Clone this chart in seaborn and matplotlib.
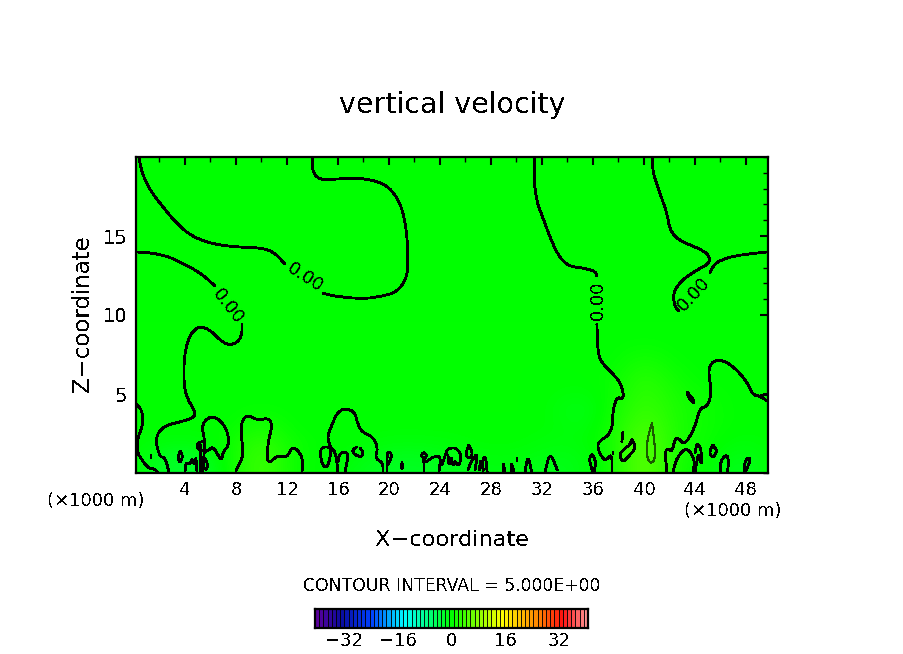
import numpy as np
import pandas as pd
import matplotlib
matplotlib.use("Agg")
import matplotlib.pyplot as plt
from matplotlib.colors import LinearSegmentedColormap
from matplotlib.ticker import MultipleLocator
import seaborn as sns

sns.set_theme(style="white")
plt.rcParams["font.family"] = ["DejaVu Sans"]
plt.rcParams["lines.antialiased"] = False
plt.rcParams["text.antialiased"] = False

TITLE = "vertical velocity"
X_LABEL = "X\u2212coordinate"
Z_LABEL = "Z\u2212coordinate"
UNIT_LABEL = "(\u00d71000 m)"
INTERVAL_LABEL = "CONTOUR INTERVAL = 5.000E+00"
CONTOUR_LABEL = "0.00"

x_major = [4, 8, 12, 16, 20, 24, 28, 32, 36, 40, 44, 48]
z_major = [5, 10, 15]
cbar_ticks = [-32, -16, 0, 16, 32]

# background field (m/s) on a coarse grid: one row per km of height, one column per 2.5 km
field_x = [0, 2.5, 5, 7.5, 10, 12.5, 15, 17.5, 20, 22.5, 25, 27.5, 30, 32.5, 35, 37.5, 40, 42.5, 45, 47.5, 50]
field_z = [0, 1, 2, 3, 4, 5, 6, 7, 8, 9]
field_w = [
    [0, -2, -3, .5, 4, .5, 0, -1, -2, -2, -1.5, -1, -1, -1.5, -1, .8, 6, 1, 0, -2, 0],
    [0, -2, -2, .5, 4, .5, 0, -.5, -1.5, -1.5, -1, -.5, -.5, -1, -1, .8, 6, 1.2, .3, -1.5, 0],
    [0, -.5, -.5, .5, 3, .5, 0, 0, -.5, -.5, -.3, 0, 0, -.5, -.5, 1, 5.5, 1.5, .5, -.5, 0],
    [0, 0, 0, 0, 1.5, 0, 0, 0, 0, 0, 0, 0, 0, 0, -1, 1, 4.5, 1.5, .6, 0, 0],
    [0, 0, 0, 0, .3, 0, 0, 0, 0, 0, 0, 0, 0, 0, -1.5, .8, 3.5, 1.5, .6, 0, 0],
    [0, 0, 0, 0, 0, 0, 0, 0, 0, 0, 0, 0, 0, 0, -.5, .4, 3, 1.2, .4, 0, 0],
    [0, 0, 0, 0, 0, 0, 0, 0, 0, 0, 0, 0, 0, 0, 0, .2, 2.5, .7, 0, 0, 0],
    [0, 0, 0, 0, 0, 0, 0, 0, 0, 0, 0, 0, 0, 0, 0, 0, 1.5, .2, 0, 0, 0],
    [0, 0, 0, 0, 0, 0, 0, 0, 0, 0, 0, 0, 0, 0, 0, 0, .4, 0, 0, 0, 0],
    [0, 0, 0, 0, 0, 0, 0, 0, 0, 0, 0, 0, 0, 0, 0, 0, 0, 0, 0, 0, 0],
]

# zero contour, traced as (x km, z km)
c_top_left = [(.39,20),(.63,18.99),(1.25,17.91),(2.27,16.84),(3.45,15.7),(4.63,14.94),(6.2,14.49),(8.08,14.3),(10.12,14.24),(11.06,13.92),(11.84,13.23)]
c_top_mid = [(14.82,11.39),(15.61,11.2),(17.96,11.01),(19.53,11.2),(20.63,11.46),(21.41,12.34),(21.49,13.48),(21.41,15.19),(21.02,16.84),(20.24,17.91),(19.29,18.42),(17.73,18.67),(15.92,18.61),(14.82,18.54),(14.2,18.8),(13.96,19.37),(14.04,20)]
c_left_14 = [(.16,13.99),(1.49,13.92),(2.82,13.67),(4.39,13.04),(5.41,12.53),(6.35,11.84)]
c_left_low = [(8.47,9.43),(8.47,8.73),(8.08,8.23),(7.37,8.1),(6.75,8.42),(5.96,9.05),(5.18,9.3),(4.55,8.92),(4.16,8.23),(3.92,7.15),(3.92,5.44),(4.24,4.62),(4.86,3.8),(4.63,3.48),(3.61,3.23),(2.59,3.04),(1.88,2.59),(1.73,1.9),(2.04,1.01),(2.43,1.01),(2.75,.06)]
c_left_edge = [(.16,4.37),(.63,3.99),(.71,3.04),(.31,2.28),(.24,1.33),(.63,.82),(1.1,.32),(1.65,.25),(1.88,0)]
c_loop_6 = [(5.41,.06),(5.57,2.09),(5.33,2.85),(5.57,3.35),(6.2,3.61),(6.9,3.23),(7.37,2.53),(7.45,1.77),(6.98,1.33),(6.9,.82),(6.67,1.01),(6.2,1.71),(5.73,1.33),(5.02,1.46),(4.94,1.9),(5.57,2.03)]
c_stem_5 = [(5.2,1.8),(5.25,.06)]
c_loop_10 = [(8,.13),(8.63,1.14),(8.39,2.41),(8.47,3.35),(8.94,3.67),(9.65,3.35),(10.67,3.48),(10.82,2.85),(10.51,1.96),(10.43,.51),(11.29,1.14),(12,.95),(12.47,1.77),(13.25,1.01),(13.18,.06)]
c_small_3 = [(3.61,1.39),(3.84,1.08),(3.61,.63),(3.45,.95),(3.61,1.39)]
c_spiky_4 = [(4,.06),(4.08,.7),(4.39,.5),(4.55,.95),(4.71,.5),(4.86,1.08),(4.94,.13)]
c_spike_5 = [(5.57,.95),(5.8,.5),(5.65,.2)]
c_dash_1 = [(1.33,1.14),(1.33,.95)]
c_big_17 = [(19.53,.06),(19.53,.63),(18.9,.95),(19.14,1.58),(18.75,2.28),(17.88,2.59),(17.49,3.23),(17.33,3.86),(16.55,4.11),(15.92,3.8),(15.53,3.04),(15.14,2.28),(15.45,1.58),(15.84,1.27),(16,.06)]
c_loop_15 = [(14.59,1.27),(14.75,1.65),(15.37,1.65),(15.45,1.33),(15.22,.38),(14.82,.38),(14.59,1.27)]
c_arch_16 = [(16,.7),(16.16,1.27),(16.71,1.33),(16.78,.95),(16.55,.06)]
c_hook_17 = [(17.49,1.65),(17.1,1.46),(17.33,1.14),(17.88,1.01),(17.96,1.33),(17.73,1.58)]
c_drop_20 = [(19.84,.06),(19.84,1.14),(20,1.39),(20.24,1.14),(20,.63),(19.84,.5)]
c_blob_21 = [(21.02,.65),(21.1,.3),(20.95,.3),(21.02,.65)]
c_head_22 = [(22.75,.06),(22.75,.89),(22.51,1.14),(22.75,1.33),(22.98,1.08),(22.75,.89)]
c_arch_23 = [(22.9,.7),(23.6,1.08),(24.08,1.01),(23.92,.06)]
c_zig_25 = [(24.16,.51),(24.55,1.46),(24.78,1.58),(25.33,1.58),(25.73,1.01),(25.41,.38),(25.18,.82),(25.02,.38),(24.86,1.14),(24.71,.38),(24.63,1.14)]
c_drop_26 = [(26.27,1.77),(26.6,1.2),(26.27,.9),(26,1.2),(26.27,1.77)]
c_spike_26 = [(26.2,.2),(26.5,.82),(26.98,1.27),(26.75,.2)]
c_spike_27 = [(27.1,.2),(27.2,.95),(27.4,.2)]
c_loop_27 = [(27.37,.06),(27.37,.95),(27.6,1.01),(27.7,.06)]
c_spike_29 = [(28.94,.1),(28.94,.7),(29.1,.1)]
c_spike_30 = [(29.57,.1),(29.57,.7),(29.8,.1)]
c_dash_30 = [(30.04,.95),(30.04,.75)]
c_loop_31 = [(30.67,.06),(30.9,1.14),(31.2,.06)]
c_peak_33 = [(32.24,.06),(32.63,1.33),(33.2,.2)]
c_loop_36 = [(36,.06),(35.69,.82),(35.92,1.27),(36.24,.7),(36.08,.06)]
c_upper_33 = [(31.45,20),(31.37,18.54),(31.6,17.15),(32.08,16.14),(32.63,14.94),(33.25,13.8),(34.04,13.1),(35.22,12.97),(36.16,12.78),(36.31,12.47)]
c_lower_37 = [(36.31,9.43),(36.39,7.59),(36.71,6.96),(37.49,6.33),(38.12,5.76),(38.43,4.94),(38.27,4.68),(37.88,4.81),(37.57,3.99),(37.49,2.53),(36.39,1.96),(36.39,1.46),(36.94,.7),(37.49,1.27),(37.49,.06)]
c_dash_38 = [(38.27,1.96),(38.35,2.59)]
c_dot_37 = [(37.57,1.33),(37.57,1.2)]
c_loop_39 = [(39.06,2.15),(39.37,1.58),(38.75,1.01),(38.35,.7),(38.04,1.14),(38.51,1.58),(38.9,1.77),(39.06,2.15)]
c_right_45 = [(41.8,.06),(41.65,1.33),(41.88,1.58),(42.2,1.33),(42.43,2.15),(42.67,2.22),(43.22,1.77),(44,2.91),(44.39,4.11),(44.94,4.18),(45.33,5.06),(45.02,6.52),(45.41,7.09),(46.2,7.15),(47.14,6.65),(48.08,5.76),(48.55,4.94),(49.1,4.87),(49.65,4.56)]
c_right_tail = [(49.1,4.87),(49.65,5)]
c_loop_43 = [(42.27,.06),(42.59,1),(43.37,1.65),(44,.82),(43.84,.06)]
c_spike_44 = [(44,1.27),(44.16,1.9),(44.47,1.58),(44.55,.63),(44.39,.7),(44.3,1.3),(44.1,.5),(44,.06)]
c_loop_45 = [(45.41,1.77),(45.75,1.4),(45.41,.95),(45.1,1.3),(45.41,1.77)]
c_loop_46 = [(46,.06),(46,.75),(46.5,1.2),(46.65,.75),(46.55,.06)]
c_spike_48 = [(47.85,.06),(47.95,.9),(48.4,.95),(48.1,.3),(47.9,.06)]
c_mini_43 = [(43.4,5.1),(43.85,4.7),(43.95,4.4),(43.5,4.75),(43.4,5.1)]
c_top_41 = [(40.63,20),(40.71,18.99),(41.25,17.72),(41.8,16.46),(42.04,15.38),(42.67,14.75),(44.39,14.18),(45.1,13.8),(45.18,13.29),(44.16,12.85),(42.98,12.22),(42.27,11.39),(42.43,10.51),(42.75,10.25)]
c_top_right = [(49.65,13.99),(47.53,13.8),(46.51,13.61),(45.57,13.29),(45.18,12.66)]

# the single +5 contour
c_plus5_41 = [(40.63,3.16),(40.31,2.28),(40.16,1.27),(40.47,.57),(40.86,.82),(40.86,1.65),(40.71,2.72),(40.63,3.16)]

zero_contours = [c_top_left, c_top_mid, c_left_14, c_left_low, c_left_edge, c_loop_6, c_stem_5, c_loop_10,
                 c_small_3, c_spiky_4, c_spike_5, c_dash_1, c_big_17, c_loop_15, c_arch_16, c_hook_17,
                 c_drop_20, c_blob_21, c_head_22, c_arch_23, c_zig_25, c_drop_26, c_spike_26, c_spike_27,
                 c_loop_27, c_spike_29, c_spike_30, c_dash_30, c_loop_31, c_peak_33, c_loop_36, c_upper_33,
                 c_lower_37, c_dash_38, c_dot_37, c_loop_39, c_right_45, c_right_tail, c_loop_43, c_spike_44,
                 c_loop_45, c_loop_46, c_spike_48, c_mini_43, c_top_41, c_top_right]

# inline contour labels: x km, z km, angle
label_x = [7.4, 13.4, 36.35, 43.9]
label_z = [10.55, 12.4, 10.95, 11.3]
label_angle = [-52, -33, 90, 47]

# colour scale
scale_values = [-40, -33, -24, -14, 0, 15, 26, 33, 40]
scale_colors = ["#5a009c", "#0a0a9c", "#0040ff", "#00ffff", "#00ff00", "#ffff00", "#ff8000", "#ff1010", "#ff9090"]
cbar_levels = [v / 4 for v in range(-160, 165, 5)]

vmin, vmax = scale_values[0], scale_values[-1]
cmap = LinearSegmentedColormap.from_list(
    "w", [((v - vmin) / (vmax - vmin), c) for v, c in zip(scale_values, scale_colors)], N=512)


def rounded(path, passes=2):
    """Round the corners of a traced polyline for drawing; end points stay put."""
    pts = np.array(path, dtype=float)
    for _ in range(passes):
        q = 0.75 * pts[:-1] + 0.25 * pts[1:]
        r = 0.25 * pts[:-1] + 0.75 * pts[1:]
        mid = np.empty((2 * len(q), 2))
        mid[0::2] = q
        mid[1::2] = r
        pts = np.vstack([pts[:1], mid, pts[-1:]])
    return pd.DataFrame(pts, columns=["x", "z"])


W, H = 904, 654
fig = plt.figure(figsize=(W / 100, H / 100), dpi=100, facecolor="white")
ax = fig.add_axes([136 / W, 1 - 473 / H, (768 - 136) / W, (473 - 157) / H])
ax.set_facecolor("#00ff00")

dx = field_x[1] - field_x[0]
dz = field_z[1] - field_z[0]
ax.imshow(np.array(field_w), origin="lower", aspect="auto", cmap=cmap, vmin=vmin, vmax=vmax,
          interpolation="bicubic",
          extent=(field_x[0] - dx / 2, field_x[-1] + dx / 2, field_z[0] - dz / 2, field_z[-1] + dz / 2),
          zorder=1)

for path in zero_contours:
    sns.lineplot(data=rounded(path), x="x", y="z", sort=False, estimator=None, color="black",
                 linewidth=1.3, ax=ax, zorder=3)
sns.lineplot(data=rounded(c_plus5_41), x="x", y="z", sort=False, estimator=None, color="#1a5a00",
             linewidth=0.8, ax=ax, zorder=3)

for lx, lz, ang in zip(label_x, label_z, label_angle):
    ax.text(lx, lz, CONTOUR_LABEL, rotation=ang, rotation_mode="anchor", ha="center", va="center",
            fontsize=13, color="black", zorder=4)

ax.set_xlim(0.16, 49.73)
ax.set_ylim(0, 20)
ax.set_xlabel("")
ax.set_ylabel("")
ax.set_xticks(x_major)
ax.set_xticklabels([str(v) for v in x_major], fontsize=13, color="black")
ax.set_yticks(z_major)
ax.set_yticklabels([str(v) for v in z_major], fontsize=14, color="black")
ax.xaxis.set_minor_locator(MultipleLocator(2))
ax.yaxis.set_minor_locator(MultipleLocator(1))
ax.tick_params(which="major", direction="in", length=6, width=1.5, top=True, right=True, color="black")
ax.tick_params(which="minor", direction="in", length=3.5, width=1, top=True, right=True, color="black")
ax.tick_params(axis="x", which="major", pad=6)
ax.tick_params(axis="y", which="major", pad=6)
for s in ax.spines.values():
    s.set_visible(True)
    s.set_color("black")
    s.set_linewidth(1.6)


def ftext(px, py, s, **kw):
    fig.text(px / W, 1 - py / H, s, ha="center", va="center", color="black", **kw)


ftext(452, 105, TITLE, fontsize=20.5)
ftext(452, 540, X_LABEL, fontsize=16.2)
ftext(83, 314, Z_LABEL, fontsize=16.5, rotation=90)
ftext(96, 501, UNIT_LABEL, fontsize=13)
ftext(733, 511, UNIT_LABEL, fontsize=13)
ftext(452, 586, INTERVAL_LABEL, fontsize=12.4)

cax = fig.add_axes([315 / W, 1 - 628 / H, (588 - 315) / W, (628 - 609) / H])
cbar_df = pd.DataFrame([cbar_levels], columns=cbar_levels)
sns.heatmap(cbar_df, ax=cax, cmap=cmap, vmin=vmin, vmax=vmax, cbar=False,
            linewidths=0.6, linecolor="black", xticklabels=False, yticklabels=False, antialiased=True)
cstep = cbar_levels[1] - cbar_levels[0]
cax.set_xticks([(v - cbar_levels[0]) / cstep + 0.5 for v in cbar_ticks])
cax.set_xticklabels([str(v).replace("-", "\u2212") for v in cbar_ticks], fontsize=13, color="black", rotation=0)
cax.tick_params(axis="x", length=0, pad=3)
cax.set_yticks([])
cax.set_xlabel("")
cax.set_ylabel("")
for s in cax.spines.values():
    s.set_visible(True)
    s.set_color("black")
    s.set_linewidth(1.6)

fig.savefig("out.png", dpi=100, facecolor="white")
